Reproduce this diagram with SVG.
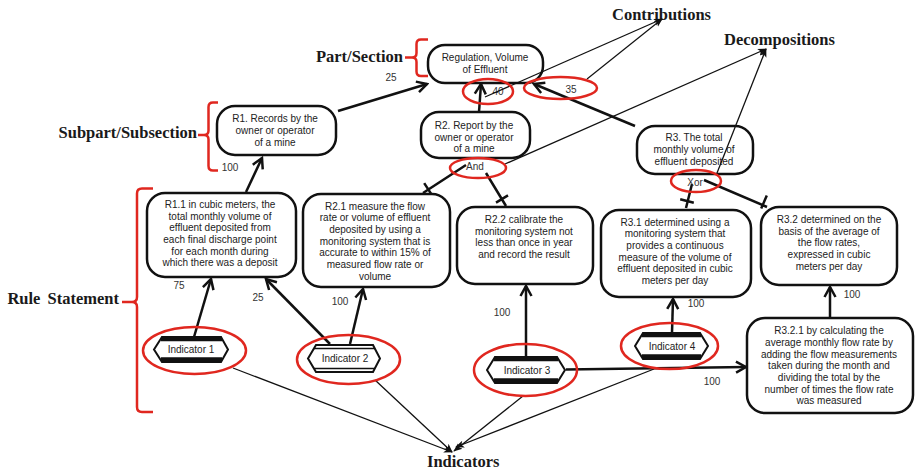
<svg xmlns="http://www.w3.org/2000/svg" width="915" height="473" viewBox="0 0 915 473">
  <style>
    .node { fill: #fff; stroke: #111; stroke-width: 2.5; }
    .nt { font-family: 'Liberation Sans', Arial, sans-serif; font-size: 10px; fill: #222; text-anchor: middle; }
    .num { font-family: 'Liberation Sans', Arial, sans-serif; font-size: 10px; fill: #333; text-anchor: middle; }
    .lbl { font-family: 'Liberation Serif', 'Times New Roman', serif; font-size: 16.5px; font-weight: bold; fill: #1a1a1a; }
    .thick { fill: none; stroke: #111; stroke-width: 2.5; }
    .thin { fill: none; stroke: #111; stroke-width: 1.3; }
    .hex { fill: #fff; stroke: #111; stroke-width: 2; stroke-linejoin: miter; }
    .band { stroke: #111; stroke-width: 4.5; }
    .dbl { stroke: #111; stroke-width: 1.4; }
    .mark { fill: none; stroke: #e0271f; stroke-width: 2.5; }
  </style>
  <defs>
    <marker id="open" viewBox="0 0 14 14" refX="12" refY="7" markerWidth="14" markerHeight="14" orient="auto" markerUnits="userSpaceOnUse">
      <path d="M2,1.5 L12,7 L2,12.5" fill="none" stroke="#111" stroke-width="2.5"/>
    </marker>
    <marker id="dart" viewBox="0 0 10 10" refX="9" refY="5" markerWidth="9" markerHeight="9" orient="auto" markerUnits="userSpaceOnUse">
      <path d="M0,1 L10,5 L0,9 L2.5,5 Z" fill="#111"/>
    </marker>
  </defs>
  <rect width="915" height="473" fill="#fff"/>

  <!-- level brackets and their captions -->
  <g id="levels">
    <path class="mark" d="M428,39.5 H421 Q416.5,39.5 416.5,44 V53 Q416.5,57.5 412,57.5 H405 M412,57.5 Q416.5,57.5 416.5,62 V71.5 Q416.5,76 421,76 H428"/>
    <text class="lbl" x="403" y="61.5" text-anchor="end">Part/Section</text>
    <path class="mark" d="M218,102.5 H213 Q208.5,102.5 208.5,107 V130.5 Q208.5,135 204,135 H198 M204,135 Q208.5,135 208.5,139.5 V166 Q208.5,170.5 213,170.5 H218"/>
    <text class="lbl" x="197" y="137.5" text-anchor="end">Subpart/Subsection</text>
    <path class="mark" d="M153,188.5 H142 Q137,188.5 137,193.5 V297 Q137,302 132,302 H122 M132,302 Q137,302 137,307 V407 Q137,412 142,412 H153"/>
    <text class="lbl" x="119" y="303.5" text-anchor="end" word-spacing="3">Rule Statement</text>
    <text class="lbl" x="612" y="19.5">Contributions</text>
    <text class="lbl" x="724" y="44.5">Decompositions</text>
    <text class="lbl" x="427" y="467">Indicators</text>
  </g>

  <!-- contribution links between elements -->
  <g id="connectors">
    <path class="thick" marker-end="url(#open)" d="M338,111 L427,84"/>
    <path class="thick" marker-end="url(#open)" d="M479,112 L481,84"/>
    <path class="thick" marker-end="url(#open)" d="M635,126 L534,84"/>
    <path class="thick" marker-end="url(#open)" d="M246,192 L262,158"/>
    <path class="thick" marker-end="url(#open)" d="M194,337 L211,279"/>
    <path class="thick" marker-end="url(#open)" d="M330,344 L266,279"/>
    <path class="thick" marker-end="url(#open)" d="M350,344 L363,289"/>
    <path class="thick" marker-end="url(#open)" d="M526,357 L526,286"/>
    <path class="thick" marker-end="url(#open)" d="M672,333 L673,299"/>
    <path class="thick" marker-end="url(#open)" d="M566,369.5 L746,367"/>
    <path class="thick" marker-end="url(#open)" d="M830,318 L830,287"/>
    <!-- decomposition links with end bars -->
    <path class="thick" d="M423,193 L466,165 M424.2,183.1 L431.8,194.9"/>
    <path class="thick" d="M486,173 L506,206 M496,202.6 L508,195.4"/>
    <path class="thick" d="M692,184 L686,208 M680.2,199.3 L693.8,202.7"/>
    <path class="thick" d="M704,180 L767,207 M761.2,208.4 L766.8,195.6"/>

    <g class="num">
      <text x="391" y="80.5">25</text>
      <text x="498" y="94.5">40</text>
      <text x="571" y="92.5">35</text>
      <text x="230" y="170.5">100</text>
      <text x="179" y="288.5">75</text>
      <text x="258" y="300.5">25</text>
      <text x="340" y="304.5">100</text>
      <text x="502" y="315.5">100</text>
      <text x="696" y="306.5">100</text>
      <text x="712" y="384.5">100</text>
      <text x="852" y="297.5">100</text>
      <text x="475" y="169.5">And</text>
      <text x="695" y="185.5">Xor</text>
    </g>
  </g>

  <!-- goal and rule nodes -->
  <g id="regulation">
    <rect class="node" x="428" y="45" width="115" height="38" rx="17"/>
    <text class="nt"><tspan x="485" y="60.5">Regulation, Volume</tspan><tspan x="485" y="72.5">of Effluent</tspan></text>
  </g>
  <g id="r1">
    <rect class="node" x="217" y="106" width="119" height="49" rx="18"/>
    <text class="nt"><tspan x="275" y="121.5">R1. Records by the</tspan><tspan x="275" y="133.5">owner or operator</tspan><tspan x="275" y="145.5">of a mine</tspan></text>
  </g>
  <g id="r2">
    <rect class="node" x="421" y="112" width="109" height="46" rx="18"/>
    <text class="nt"><tspan x="474" y="128.5">R2. Report by the</tspan><tspan x="474" y="140.5">owner or operator</tspan><tspan x="474" y="152">of a mine</tspan></text>
  </g>
  <g id="r3">
    <rect class="node" x="637" y="126" width="116" height="48" rx="18"/>
    <text class="nt"><tspan x="694" y="140.5">R3. The total</tspan><tspan x="694" y="152.5">monthly volume of</tspan><tspan x="694" y="164.5">effluent deposited</tspan></text>
  </g>
  <g id="r1-1">
    <rect class="node" x="147" y="193" width="149" height="84" rx="18"/>
    <text class="nt"><tspan x="220" y="208">R1.1 in cubic meters, the</tspan><tspan x="220" y="219.5">total monthly volume of</tspan><tspan x="220" y="231">effluent deposited from</tspan><tspan x="220" y="243">each final discharge point</tspan><tspan x="220" y="254.5">for each month during</tspan><tspan x="220" y="266">which there was a deposit</tspan></text>
  </g>
  <g id="r2-1">
    <rect class="node" x="303" y="194" width="147" height="93" rx="18"/>
    <text class="nt"><tspan x="375" y="209.5">R2.1 measure the flow</tspan><tspan x="375" y="221">rate or volume of effluent</tspan><tspan x="375" y="233">deposited by using a</tspan><tspan x="375" y="244.5">monitoring system that is</tspan><tspan x="375" y="256">accurate to within 15% of</tspan><tspan x="375" y="268">measured flow rate or</tspan><tspan x="375" y="279.5">volume</tspan></text>
  </g>
  <g id="r2-2">
    <rect class="node" x="457" y="207" width="136" height="77" rx="18"/>
    <text class="nt"><tspan x="524" y="223">R2.2 calibrate the</tspan><tspan x="524" y="234.5">monitoring system not</tspan><tspan x="524" y="246">less than once in year</tspan><tspan x="524" y="258">and record the result</tspan></text>
  </g>
  <g id="r3-1">
    <rect class="node" x="601" y="210" width="150" height="87" rx="18"/>
    <text class="nt"><tspan x="675" y="225.5">R3.1 determined using a</tspan><tspan x="675" y="237">monitoring system that</tspan><tspan x="675" y="249">provides a continuous</tspan><tspan x="675" y="260.5">measure of the volume of</tspan><tspan x="675" y="272">effluent deposited in cubic</tspan><tspan x="675" y="284">meters per day</tspan></text>
  </g>
  <g id="r3-2">
    <rect class="node" x="761" y="207" width="136" height="78" rx="18"/>
    <text class="nt"><tspan x="829" y="223">R3.2 determined on the</tspan><tspan x="829" y="234.5">basis of the average of</tspan><tspan x="829" y="246">the flow rates,</tspan><tspan x="829" y="258">expressed in cubic</tspan><tspan x="829" y="270">meters per day</tspan></text>
  </g>
  <g id="r3-2-1">
    <rect class="node" x="747" y="318" width="166" height="95" rx="18"/>
    <text class="nt"><tspan x="829" y="334">R3.2.1 by calculating the</tspan><tspan x="829" y="346">average monthly flow rate by</tspan><tspan x="829" y="357.5">adding the flow measurements</tspan><tspan x="829" y="369">taken during the month and</tspan><tspan x="829" y="381">dividing the total by the</tspan><tspan x="829" y="393">number of times the flow rate</tspan><tspan x="829" y="404">was measured</tspan></text>
  </g>

  <!-- indicators -->
  <g id="indicator-1">
    <polygon class="hex" points="154,349.5 162,337 221,337 228,349.5 221,362 162,362"/>
    <line class="band" x1="161" y1="339" x2="222" y2="339"/>
    <line class="band" x1="161" y1="359.5" x2="222" y2="359.5"/>
    <text class="nt" x="191" y="353">Indicator 1</text>
  </g>
  <g id="indicator-2">
    <polygon class="hex" points="308,358.5 316,345 373,345 380,358.5 373,372 316,372"/>
    <line class="dbl" x1="314" y1="348.5" x2="375" y2="348.5"/>
    <line class="dbl" x1="314" y1="368.5" x2="375" y2="368.5"/>
    <text class="nt" x="345" y="361.5">Indicator 2</text>
  </g>
  <g id="indicator-3">
    <polygon class="hex" points="487,370 495,357 557,357 565,370 557,383 495,383"/>
    <line class="band" x1="494" y1="359" x2="558" y2="359"/>
    <line class="band" x1="494" y1="380.5" x2="558" y2="380.5"/>
    <text class="nt" x="527" y="373.5">Indicator 3</text>
  </g>
  <g id="indicator-4">
    <polygon class="hex" points="635,346 643,333 700,333 708,346 700,359 643,359"/>
    <line class="band" x1="642" y1="335" x2="701" y2="335"/>
    <line class="band" x1="642" y1="356.5" x2="701" y2="356.5"/>
    <text class="nt" x="672" y="349.5">Indicator 4</text>
  </g>

  <!-- pointer lines to the captions -->
  <g id="pointers">
    <path class="thin" marker-end="url(#dart)" d="M485,97 L662,19"/>
    <path class="thin" marker-end="url(#dart)" d="M587,79 L662,19"/>
    <path class="thin" marker-end="url(#dart)" d="M505,164 L766,49"/>
    <path class="thin" marker-end="url(#dart)" d="M717,173 L766,49"/>
    <path class="thin" marker-end="url(#dart)" d="M233,368 L452,452"/>
    <path class="thin" marker-end="url(#dart)" d="M375,380 L452,452"/>
    <path class="thin" marker-end="url(#dart)" d="M523,396 L454,451"/>
    <path class="thin" marker-end="url(#dart)" d="M654,369 L456,447"/>
  </g>

  <!-- highlight ellipses -->
  <g id="highlights">
    <ellipse class="mark" cx="488" cy="91.5" rx="25" ry="12.5"/>
    <ellipse class="mark" cx="560.5" cy="88" rx="36.5" ry="11"/>
    <ellipse class="mark" cx="478" cy="168" rx="28" ry="10"/>
    <ellipse class="mark" cx="696" cy="181" rx="25" ry="11"/>
    <ellipse class="mark" cx="194.5" cy="350.5" rx="51.5" ry="23.5"/>
    <ellipse class="mark" cx="348.5" cy="359.5" rx="51.5" ry="24.5"/>
    <ellipse class="mark" cx="525.5" cy="370" rx="51.5" ry="26"/>
    <ellipse class="mark" cx="669.5" cy="346" rx="48.5" ry="23"/>
  </g>
</svg>
